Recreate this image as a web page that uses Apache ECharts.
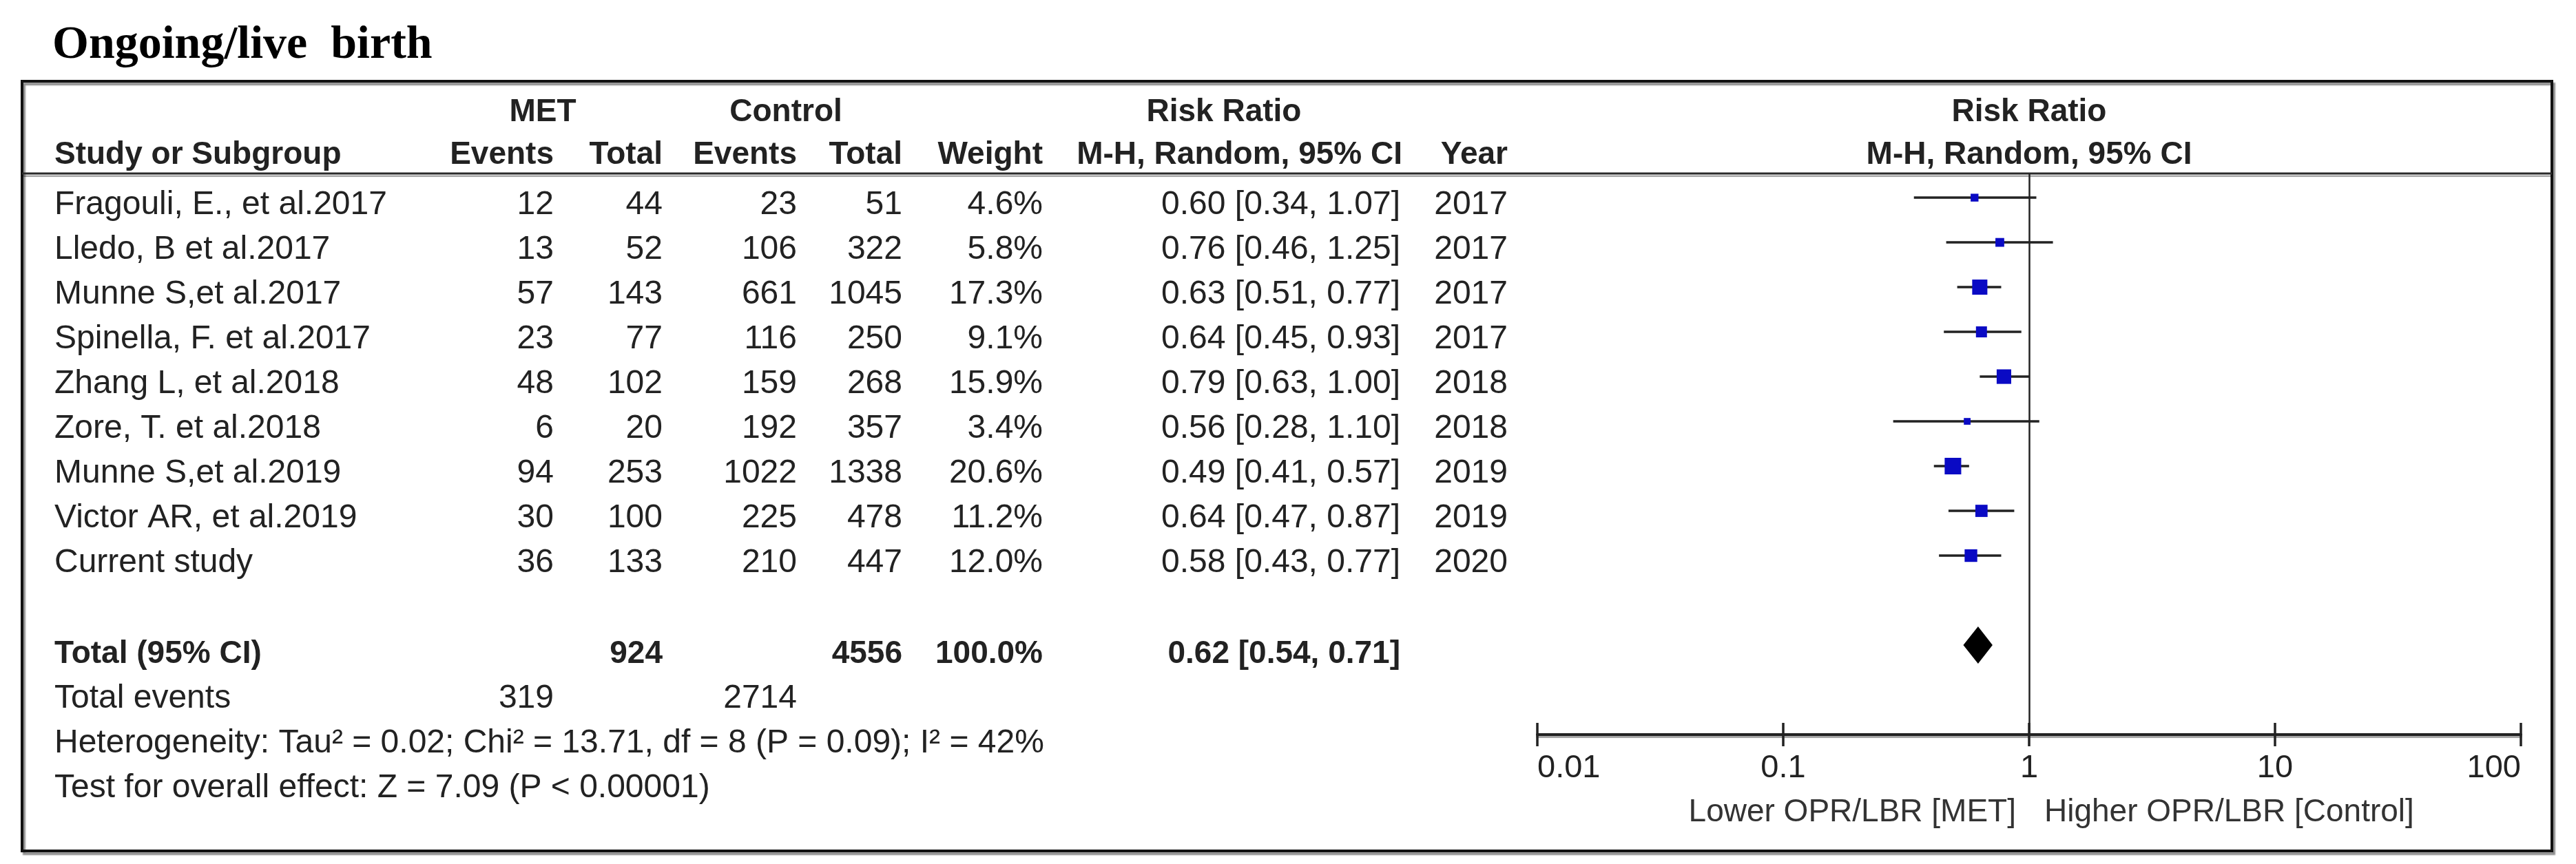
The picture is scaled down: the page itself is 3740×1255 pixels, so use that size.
<!DOCTYPE html>
<html>
<head>
<meta charset="utf-8">
<script src="https://cdn.jsdelivr.net/npm/echarts@6/dist/echarts.min.js"></script>
<style>html,body{margin:0;padding:0;background:#fff}#c{width:3740px;height:1255px}</style>
</head>
<body>
<div id="c"></div>
<script>
// ---------------- data ----------------
const studies = ['Fragouli, E., et al.2017', 'Lledo, B et al.2017', 'Munne S,et al.2017', 'Spinella, F. et al.2017',
  'Zhang L, et al.2018', 'Zore, T. et al.2018', 'Munne S,et al.2019', 'Victor AR, et al.2019', 'Current study'];
const metEvents = [12, 13, 57, 23, 48, 6, 94, 30, 36];
const metTotal = [44, 52, 143, 77, 102, 20, 253, 100, 133];
const ctrlEvents = [23, 106, 661, 116, 159, 192, 1022, 225, 210];
const ctrlTotal = [51, 322, 1045, 250, 268, 357, 1338, 478, 447];
const weights = [4.6, 5.8, 17.3, 9.1, 15.9, 3.4, 20.6, 11.2, 12.0];
const rr = [0.60, 0.76, 0.63, 0.64, 0.79, 0.56, 0.49, 0.64, 0.58];
const rrLow = [0.34, 0.46, 0.51, 0.45, 0.63, 0.28, 0.41, 0.47, 0.43];
const rrHigh = [1.07, 1.25, 0.77, 0.93, 1.00, 1.10, 0.57, 0.87, 0.77];
const years = [2017, 2017, 2017, 2017, 2018, 2018, 2019, 2019, 2020];
const pooled = [0.62, 0.54, 0.71];           // RR, low, high
const pooledTotals = [924, 4556];            // MET total, control total
const pooledWeight = 100.0;
const totalEvents = [319, 2714];
const heterogeneityText = 'Heterogeneity: Tau\u00b2 = 0.02; Chi\u00b2 = 13.71, df = 8 (P = 0.09); I\u00b2 = 42%';
const overallText = 'Test for overall effect: Z = 7.09 (P < 0.00001)';
const tickLabels = ['0.01', '0.1', '1', '10', '100'];
const favourLeft = 'Lower OPR/LBR [MET]';
const favourRight = 'Higher OPR/LBR [Control]';
const titleText = 'Ongoing/live  birth';

// ---------------- layout / style ----------------
const FONT = '"Liberation Sans", Arial, sans-serif';
const TXT = '#222';
const COL = {name: 79, metE: 804, metT: 962, ctlE: 1157, ctlT: 1310, w: 1514, ci: 2033, year: 2189};
const ROW_TEXT_DY = 0.17;          // text sits slightly below the marks (row units)
const Y_TOTAL = 10, Y_TOTAL_TXT = 10.2, Y_EVENTS = 11.2, Y_HET = 12.2, Y_TEST = 13.2;
const Y_HEAD1 = -1.9, Y_HEAD2 = -0.95, Y_FAVOUR = 13.75;
const BODY = 48, HEAD = 46;

function txt(x, y, s, align, bold, size, color) {
  return {type: 'text', x: x, y: y, style: {text: String(s), fill: color || TXT, align: align,
    verticalAlign: 'middle', font: (bold ? 'bold ' : '') + (size || BODY) + 'px ' + FONT}};
}
const fmtCI = (r, l, h) => r.toFixed(2) + ' [' + l.toFixed(2) + ', ' + h.toFixed(2) + ']';

const chart = echarts.init(document.getElementById('c'));

const option = {
  animation: false,
  backgroundColor: '#fff',
  title: {text: titleText, left: 76, top: 32, padding: 0,
    textStyle: {fontFamily: '"Liberation Serif", serif', fontWeight: 'bold', fontSize: 68, color: '#000'}},
  grid: {left: 2232, right: 80, top: 252, bottom: 188},
  xAxis: [{
    type: 'log', logBase: 10, min: 0.01, max: 100, position: 'bottom',
    axisLine: {show: true, onZero: false, lineStyle: {color: '#222', width: 4, shadowColor: 'rgba(0,0,0,0.35)', shadowOffsetY: 3}},
    axisTick: {show: true, length: 17, lineStyle: {color: '#222', width: 3.5}},
    axisLabel: {show: true, margin: 26, fontSize: 47, fontFamily: FONT, color: TXT,
      alignMinLabel: 'left', alignMaxLabel: 'right',
      formatter: (v, i) => tickLabels[i] !== undefined ? tickLabels[i] : String(v)},
    splitLine: {show: false}
  }, {
    type: 'log', logBase: 10, min: 0.01, max: 100, position: 'bottom',
    axisLine: {show: false, onZero: false},
    axisTick: {show: true, inside: true, length: 17, lineStyle: {color: '#222', width: 3.5}},
    axisLabel: {show: false}, splitLine: {show: false}
  }],
  yAxis: {type: 'value', min: -0.54, max: 12.0, inverse: true, show: false},
  graphic: [
    {type: 'rect', shape: {x: 32, y: 118, width: 3673, height: 1118},
      style: {fill: 'none', stroke: '#111', lineWidth: 4, shadowColor: 'rgba(0,0,0,0.45)', shadowOffsetX: 3, shadowOffsetY: 4, shadowBlur: 2}},
    {type: 'line', shape: {x1: 32, y1: 252, x2: 3705, y2: 252},
      style: {stroke: '#2a2a2a', lineWidth: 3, shadowColor: 'rgba(0,0,0,0.35)', shadowOffsetY: 3, shadowBlur: 1}}
  ],
  series: [
    // reference line at RR = 1
    {type: 'scatter', data: [], silent: true,
      markLine: {silent: true, symbol: ['none', 'none'], label: {show: false},
        lineStyle: {color: '#222', width: 2.5, type: 'solid'}, data: [{xAxis: 1}]}},
    // study rows: CI whiskers + weighted squares
    {type: 'custom', clip: false, z: 5,
      data: studies.map((s, i) => [rr[i], i]),
      renderItem: function (params, api) {
        const i = params.dataIndex;
        const pL = api.coord([rrLow[i], i]);
        const pH = api.coord([rrHigh[i], i]);
        const pC = api.coord([rr[i], i]);
        const s = 5.3 * Math.sqrt(weights[i]);
        return {type: 'group', children: [
          {type: 'line', shape: {x1: pL[0], y1: pL[1], x2: pH[0], y2: pH[1]}, style: {stroke: '#222', lineWidth: 3.5}},
          {type: 'rect', shape: {x: pC[0] - s / 2, y: pC[1] - s / 2, width: s, height: s}, style: {fill: '#0a0ac4'}}
        ]};
      }},
    // pooled diamond
    {type: 'custom', clip: false, z: 5,
      data: [[pooled[0], Y_TOTAL]],
      renderItem: function (params, api) {
        const pL = api.coord([pooled[1], Y_TOTAL]);
        const pC = api.coord([pooled[0], Y_TOTAL]);
        const pH = api.coord([pooled[2], Y_TOTAL]);
        const h = 27;
        return {type: 'polygon', shape: {points: [[pL[0], pL[1]], [pC[0], pC[1] - h], [pH[0], pH[1]], [pC[0], pC[1] + h]]},
          style: {fill: '#000'}};
      }},
    // table rows
    {type: 'custom', clip: false, silent: true,
      data: studies.map((s, i) => [1, i]),
      renderItem: function (params, api) {
        const i = params.dataIndex;
        const y = api.coord([1, i + ROW_TEXT_DY])[1];
        return {type: 'group', children: [
          txt(COL.name, y, studies[i], 'left'),
          txt(COL.metE, y, metEvents[i], 'right'),
          txt(COL.metT, y, metTotal[i], 'right'),
          txt(COL.ctlE, y, ctrlEvents[i], 'right'),
          txt(COL.ctlT, y, ctrlTotal[i], 'right'),
          txt(COL.w, y, weights[i].toFixed(1) + '%', 'right'),
          txt(COL.ci, y, fmtCI(rr[i], rrLow[i], rrHigh[i]), 'right'),
          txt(COL.year, y, years[i], 'right')
        ]};
      }},
    // headers, totals and footer text
    {type: 'custom', clip: false, silent: true,
      data: [[1, 0]],
      renderItem: function (params, api) {
        const y1 = api.coord([1, Y_HEAD1])[1];
        const y2 = api.coord([1, Y_HEAD2])[1];
        const yT = api.coord([1, Y_TOTAL_TXT])[1];
        const yE = api.coord([1, Y_EVENTS])[1];
        const yH = api.coord([1, Y_HET])[1];
        const yS = api.coord([1, Y_TEST])[1];
        const pF = api.coord([1, Y_FAVOUR]);
        const xMid = api.coord([1, 0])[0];
        return {type: 'group', children: [
          txt(788, y1, 'MET', 'center', true, HEAD),
          txt(1141, y1, 'Control', 'center', true, HEAD),
          txt(1777, y1, 'Risk Ratio', 'center', true, HEAD),
          txt(xMid, y1, 'Risk Ratio', 'center', true, HEAD),
          txt(COL.name, y2, 'Study or Subgroup', 'left', true, HEAD),
          txt(COL.metE, y2, 'Events', 'right', true, HEAD),
          txt(COL.metT, y2, 'Total', 'right', true, HEAD),
          txt(COL.ctlE, y2, 'Events', 'right', true, HEAD),
          txt(COL.ctlT, y2, 'Total', 'right', true, HEAD),
          txt(COL.w, y2, 'Weight', 'right', true, HEAD),
          txt(COL.ci + 3, y2, 'M-H, Random, 95% CI', 'right', true, HEAD),
          txt(COL.year, y2, 'Year', 'right', true, HEAD),
          txt(xMid, y2, 'M-H, Random, 95% CI', 'center', true, HEAD),
          txt(COL.name, yT, 'Total (95% CI)', 'left', true, HEAD),
          txt(COL.metT, yT, pooledTotals[0], 'right', true, HEAD),
          txt(COL.ctlT, yT, pooledTotals[1], 'right', true, HEAD),
          txt(COL.w, yT, pooledWeight.toFixed(1) + '%', 'right', true, HEAD),
          txt(COL.ci, yT, fmtCI(pooled[0], pooled[1], pooled[2]), 'right', true, HEAD),
          txt(COL.name, yE, 'Total events', 'left'),
          txt(COL.metE, yE, totalEvents[0], 'right'),
          txt(COL.ctlE, yE, totalEvents[1], 'right'),
          txt(COL.name, yH, heterogeneityText, 'left'),
          txt(COL.name, yS, overallText, 'left'),
          txt(pF[0] - 19, pF[1], favourLeft, 'right', false, 46, '#333'),
          txt(pF[0] + 22, pF[1], favourRight, 'left', false, 46, '#333')
        ]};
      }}
  ]
};
chart.setOption(option);
</script>
</body>
</html>
